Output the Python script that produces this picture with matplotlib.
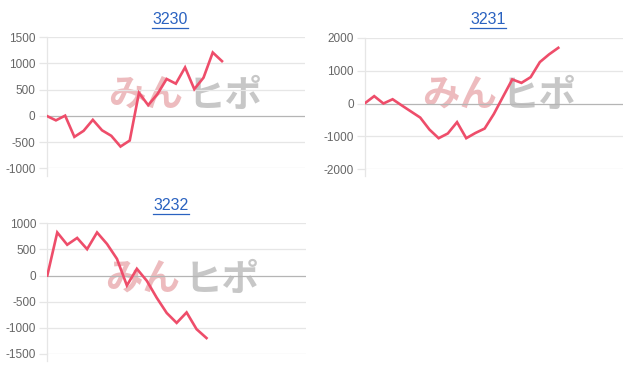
import matplotlib
matplotlib.use("Agg")
import matplotlib.pyplot as plt
from matplotlib.lines import Line2D

W, H = 632, 368

# values, one list per chart
labels = ['3230', '3231', '3232']
vals_3230 = [0, -85, 5, -400, -285, -75, -275, -380, -585, -470,
             440, 205, 415, 705, 615, 925, 510, 730, 1210, 1045]
vals_3231 = [10, 225, 0, 130, -60, -245, -430, -795, -1060, -915,
             -570, -1060, -900, -765, -320, 210, 735, 630, 805, 1265,
             1500, 1700]
vals_3232 = [0, 825, 590, 720, 505, 825, 605, 320, -190, 130,
             -100, -425, -715, -905, -705, -1025, -1195]
ylims = [(-1000, 1500), (-2000, 2000), (-1500, 1000)]
ysteps = [500, 1000, 500]
n_slots = [29, 29, 27]

LINE = '#ee4d6a'
GRID = '#e6e6e6'
ZERO = '#b5b5b5'
TICKC = '#666666'
TITLEC = '#2a62c0'

plt.rcParams['font.family'] = ['Liberation Sans', 'DejaVu Sans']

fig = plt.figure(figsize=(W / 100, H / 100), dpi=100)

# plot boxes in pixels: left, top, right, bottom
boxes = [(46.7, 37.3, 305.0, 168.3),
         (365.0, 38.0, 622.7, 169.0),
         (47.3, 223.3, 306.0, 354.0)]
title_pos = [(170, 19), (488, 19), (171, 205)]
wm_pos = [(108, 95), (422, 95), (105, 279)]


def fx(x):
    return x / W


def fy(y):
    return 1 - y / H


axes = []
for i, series in enumerate([vals_3230, vals_3231, vals_3232]):
    l, t, r, b = boxes[i]
    ax = fig.add_axes([fx(l), fy(b), (r - l) / W, (b - t) / H])
    ax.set_facecolor('none')
    ax.plot(range(len(series)), series, color=LINE, linewidth=1.9,
            solid_joinstyle='miter', zorder=3)
    ax.set_xlim(0, n_slots[i] - 1)
    lo, hi = ylims[i]
    ax.set_ylim(lo, hi)
    ticks = list(range(lo, hi + 1, ysteps[i]))
    ax.set_yticks(ticks)
    ax.set_yticklabels([str(v) for v in ticks])
    ax.set_xticks([])
    for v in ticks:
        ax.axhline(v, color=ZERO if v == 0 else GRID, linewidth=0.9, zorder=1)
    for s in ['top', 'right', 'bottom']:
        ax.spines[s].set_visible(False)
    ax.spines['left'].set_color(GRID)
    ax.spines['left'].set_linewidth(0.9)
    # axis line runs a little below the last gridline
    ax.add_line(Line2D([0, 0], [0, -0.055], transform=ax.transAxes,
                       color=GRID, linewidth=0.9, clip_on=False))
    ax.tick_params(axis='y', length=6, width=0.9, color=GRID,
                   labelcolor=TICKC, labelsize=8.5, pad=2)
    axes.append(ax)

    # title, underlined like a link
    tx, ty = title_pos[i]
    txt = fig.text(fx(tx), fy(ty), labels[i], ha='center', va='center',
                   fontsize=11.5, color=TITLEC)
    axes[-1]._title_txt = txt

    # watermark logo behind the line
    wx, wy = wm_pos[i]
    fig.text(fx(wx), fy(wy), 'みん', ha='left', va='center', fontsize=27,
             fontweight='bold', color='#eab0b3', alpha=0.85, zorder=-1,
             family=['Noto Sans CJK JP', 'DejaVu Sans'])
    fig.text(fx(wx + 80), fy(wy), 'ヒポ', ha='left', va='center', fontsize=27,
             fontweight='bold', color='#bdbdbd', alpha=0.85, zorder=-1,
             family=['Noto Sans CJK JP', 'DejaVu Sans'])

renderer = fig.canvas.get_renderer()
for ax in axes:
    bb = ax._title_txt.get_window_extent(renderer)
    y0 = bb.y0 - 1
    fig.add_artist(Line2D([bb.x0 / W, bb.x1 / W], [y0 / H, y0 / H],
                          color=TITLEC, linewidth=0.9))

fig.savefig('out.png', dpi=100)
